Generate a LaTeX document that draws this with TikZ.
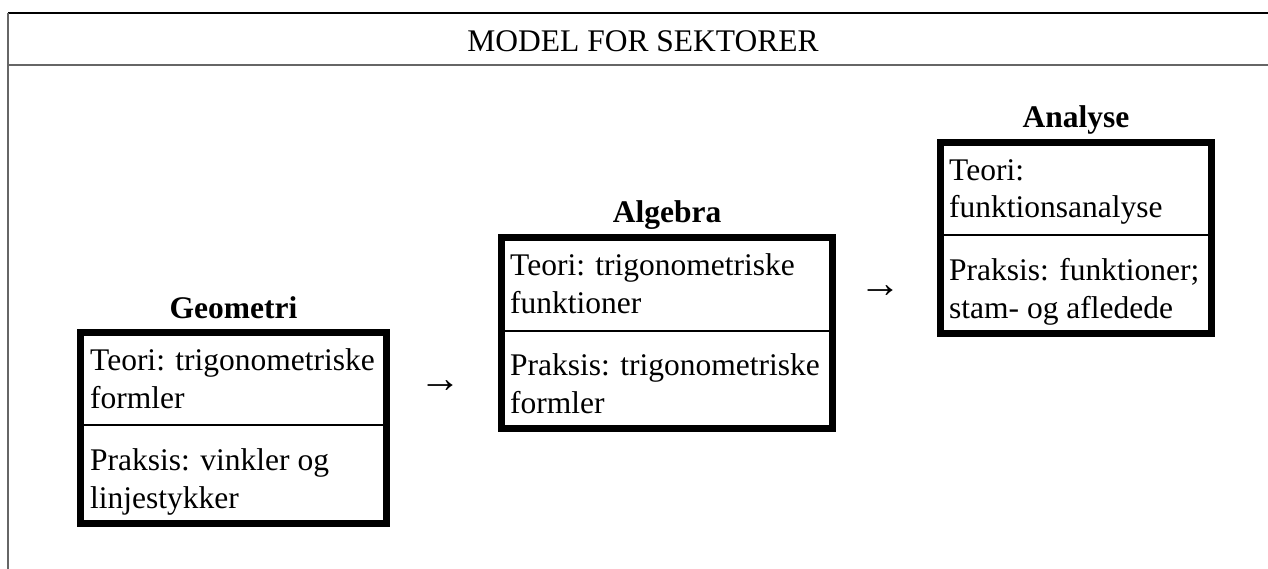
\documentclass[tikz,border=0pt]{standalone}
\usepackage{fontspec}
\setmainfont{Liberation Serif}
\begin{document}
\begin{tikzpicture}[x=1pt,y=-1pt,
  txt/.style={anchor=base west,inner sep=0pt,align=left,font=\fontsize{31.5}{37.5}\selectfont},
  ttl/.style={anchor=base,inner sep=0pt,font=\fontsize{31.5}{36}\selectfont\bfseries},
  hdr/.style={anchor=base,inner sep=0pt,font=\fontsize{31.5}{36}\selectfont},
  arr/.style={anchor=base,inner sep=0pt,font=\fontsize{42}{48}\selectfont},
  box/.style={draw,line width=7pt,inner sep=0pt,outer sep=0pt,minimum height=191pt},
  sep/.style={line width=2pt},
  rule/.style={line width=2pt,draw=black!60},
]
\useasboundingbox (0,0) rectangle (1268,569);
% outer frame
\coordinate (tl) at (8,13);
\coordinate (tr) at (1268,13);
\coordinate (bl) at (8,569);
\coordinate (hl) at (8,65);
\coordinate (hr) at (1268,65);
\draw[line width=2pt] (tl) -- (tr);
\draw[rule] (tl) -- (bl);
\draw[rule] (hl) -- (hr);
\node[hdr] (head) at (643,52) {MODEL FOR SEKTORER};

% Geometri
\node[box,minimum width=306pt] (geo) at (233.5,428) {};
\draw[sep] (geo.west |- 0,425) -- (geo.east |- 0,425);
\node[ttl] (geot) at (233.5,318) {Geometri};
\node[txt] (geo1) at (90,408) {Teori: trigonometriske\\formler};
\node[txt] (geo2) at (90,508) {Praksis: vinkler og\\linjestykker};

% Algebra
\node[box,minimum width=331pt] (alg) at (667,333) {};
\draw[sep] (alg.west |- 0,331) -- (alg.east |- 0,331);
\node[ttl] (algt) at (667,223) {Algebra};
\node[txt] (alg1) at (510,313) {Teori: trigonometriske\\funktioner};
\node[txt] (alg2) at (510,413) {Praksis: trigonometriske\\formler};

% Analyse
\node[box,minimum width=271pt] (ana) at (1076,238) {};
\draw[sep] (ana.west |- 0,235) -- (ana.east |- 0,235);
\node[ttl] (anat) at (1076,128) {Analyse};
\node[txt] (ana1) at (949,218) {Teori:\\funktionsanalyse};
\node[txt] (ana2) at (949,318) {Praksis: funktioner;\\stam- og afledede};

% arrows
\node[arr] (a1) at (440,392) {→};
\node[arr] (a2) at (880,297) {→};
\end{tikzpicture}
\end{document}
